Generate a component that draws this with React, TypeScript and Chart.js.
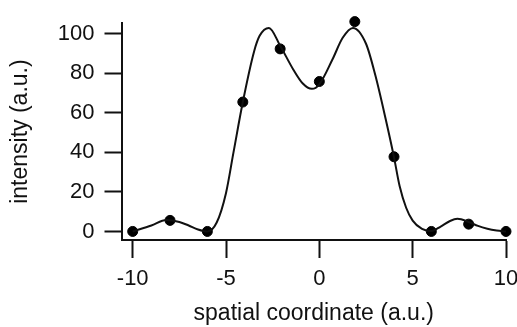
import React, { useEffect, useRef } from "react";
import { Chart, registerables } from "chart.js";

Chart.register(...registerables);

// measured data points
const pointX = [-10, -8, -6, -4.1, -2.1, 0, 1.9, 4, 6, 8, 10];
const pointY = [0, 5.6, 0, 65.5, 92.4, 75.9, 106.2, 37.8, 0, 3.7, 0];

// fitted curve
const fitX = [-10, -9, -8.2, -7.5, -7, -6.5, -6, -5.5, -5, -4.6, -4.1, -3.5, -3.2, -2.7, -2.1, -1.4, -0.9, -0.4, 0, 0.7, 1.25, 1.8, 2.5, 3, 3.55, 4, 4.3, 4.65, 5, 5.5, 6, 6.5, 7, 7.4, 8, 8.5, 9, 9.5, 10];
const fitY = [0, 3, 5.8, 4.8, 3, 1, 0, 4.5, 19.5, 40, 65.5, 91, 99, 103, 94, 82, 75, 72.2, 74.5, 87, 98, 103, 95, 79, 57, 37.5, 23, 12, 5.5, 1.3, 0.2, 2.5, 5.3, 6.4, 4.8, 2.8, 1.4, 0.5, 0];

const xTicks = [-10, -5, 0, 5, 10];
const yTicks = [0, 20, 40, 60, 80, 100];

const xTitle = "spatial coordinate (a.u.)";
const yTitle = "intensity (a.u.)";

export default function App() {
  const ref = useRef<HTMLCanvasElement | null>(null);
  useEffect(() => {
    if (!ref.current) return;
    const FONT = "'Liberation Sans', Arial, sans-serif";
    const ink = "#111";
    const chart = new Chart(ref.current, {
      type: "scatter",
      data: {
        datasets: [
          {
            type: "line",
            data: fitX.map((x, i) => ({ x, y: fitY[i] })),
            borderColor: ink,
            borderWidth: 2,
            pointRadius: 0,
            cubicInterpolationMode: "monotone",
            fill: false,
            clip: false as any,
          },
          {
            type: "scatter",
            data: pointX.map((x, i) => ({ x, y: pointY[i] })),
            backgroundColor: "#000",
            borderColor: "#000",
            pointRadius: 5,
            clip: false as any,
          },
        ],
      },
      options: {
        animation: false,
        responsive: false,
        layout: { padding: { left: 0, top: 12, right: 11, bottom: 0 } },
        plugins: { legend: { display: false }, tooltip: { enabled: false } },
        scales: {
          x: {
            type: "linear",
            min: -10.6,
            max: 10,
            afterBuildTicks: (s: any) => {
              s.ticks = xTicks.map((v) => ({ value: v }));
            },
            afterFit: (s: any) => {
              s.height = 87;
              s.paddingLeft = 0;
              s.paddingRight = 0;
            },
            grid: { drawOnChartArea: false, tickLength: 18, tickColor: ink, tickWidth: 2 },
            border: { display: true, color: ink, width: 2 },
            ticks: { color: ink, font: { family: FONT, size: 22 }, padding: 8, maxRotation: 0, autoSkip: false },
            title: { display: true, text: xTitle, color: ink, font: { family: FONT, size: 23 }, padding: { top: 0, bottom: 0 } },
          },
          y: {
            type: "linear",
            min: -4.33,
            max: 105.4,
            afterBuildTicks: (s: any) => {
              s.ticks = yTicks.map((v) => ({ value: v }));
            },
            afterFit: (s: any) => {
              s.width = 121.5;
            },
            grid: { drawOnChartArea: false, tickLength: 17, tickColor: ink, tickWidth: 2 },
            border: { display: true, color: ink, width: 2 },
            ticks: { color: ink, font: { family: FONT, size: 22 }, padding: 10 },
            title: { display: true, text: yTitle, color: ink, font: { family: FONT, size: 23 }, padding: { top: 7, bottom: 0 } },
          },
        },
      },
    });
    return () => chart.destroy();
  }, []);
  return (
    <div style={{ position: "absolute", left: 0, top: 0, width: 517, height: 327, background: "#fff" }}>
      <canvas ref={ref} width={517} height={327} />
    </div>
  );
}
